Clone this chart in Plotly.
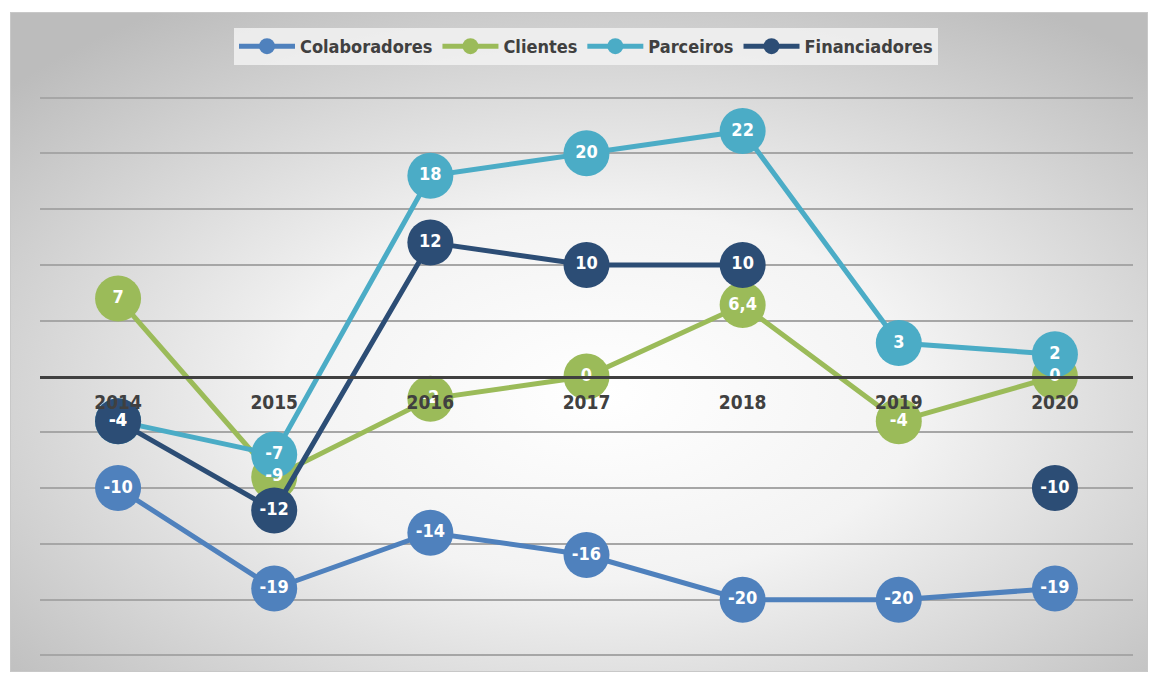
import base64
import plotly.graph_objects as go

# Series by year (None = no value reported)
years = ["2014", "2015", "2016", "2017", "2018", "2019", "2020"]
colaboradores = [-10, -19, -14, -16, -20, -20, -19]
clientes = [7, -9, -2, 0, 6.4, -4, 0]
parceiros = [-4, -7, 18, 20, 22, 3, 2]
financiadores = [-4, -12, 12, 10, 10, None, -10]

series = [
    ("Colaboradores", colaboradores, "#4f81bd"),
    ("Clientes", clientes, "#9bbb59"),
    ("Parceiros", parceiros, "#4bacc6"),
    ("Financiadores", financiadores, "#2c4d75"),
]

FONT = "Liberation Sans Narrow, DejaVu Sans Condensed, Arial Narrow, sans-serif"


def fmt(v):
    if v is None:
        return ""
    s = f"{v:g}"
    return s.replace(".", ",")


fig = go.Figure()

# Lines and circular markers
for name, vals, color in series:
    fig.add_trace(go.Scatter(
        x=years, y=vals, name=name, mode="lines+markers",
        line=dict(color=color, width=5),
        marker=dict(size=46, color=color, line=dict(width=0)),
        connectgaps=False,
    ))

# Value labels on top of every series
for name, vals, color in series:
    fig.add_trace(go.Scatter(
        x=years, y=vals, mode="text", text=[fmt(v) for v in vals],
        textposition="middle center", showlegend=False, hoverinfo="skip",
        textfont=dict(family=FONT, size=18, color="white", weight="bold"),
    ))

# Radial gradient backdrop for the chart frame
svg = """<svg xmlns='http://www.w3.org/2000/svg' width='1138' height='660' viewBox='0 0 1138 660' preserveAspectRatio='none'>
<defs><radialGradient id='g' cx='52%' cy='58%' r='70%' fx='52%' fy='58%'>
<stop offset='0' stop-color='#ffffff'/><stop offset='0.4' stop-color='#f3f3f3'/>
<stop offset='1' stop-color='#bcbcbc'/></radialGradient></defs>
<rect x='0.5' y='0.5' width='1137' height='659' fill='url(#g)' stroke='#c8c8c8' stroke-width='1'/>
</svg>"""
src = "data:image/svg+xml;base64," + base64.b64encode(svg.encode()).decode()

# Plot area in pixels; the y range is padded by half a unit on each side
L, R, T, B = 40, 1133, 92, 661
W, H = R - L, B - T


def px_x(p):
    return (p - L) / W


def px_y(p):
    return (B - p) / H


fig.add_layout_image(dict(
    source=src, xref="paper", yref="paper",
    x=px_x(10), y=px_y(12), sizex=px_x(1148) - px_x(10), sizey=px_y(12) - px_y(672),
    xanchor="left", yanchor="top", sizing="stretch", layer="below",
))

fig.update_layout(
    width=1152, height=675,
    margin=dict(l=L, r=1152 - R, t=T, b=675 - B),
    paper_bgcolor="white", plot_bgcolor="rgba(0,0,0,0)",
    font=dict(family=FONT, color="#404040"),
    showlegend=True,
    legend=dict(
        orientation="h", x=px_x(586), xanchor="center", y=px_y(28), yanchor="top",
        bgcolor="rgba(242,242,242,0.85)",
        font=dict(family=FONT, size=18, color="#404040", weight="bold"),
        itemwidth=56, tracegroupgap=0,
    ),
    xaxis=dict(
        type="category", range=[-0.5, 6.5], anchor="free", position=0.5,
        showline=True, linecolor="#404040", linewidth=3,
        ticks="outside", ticklen=8, tickcolor="rgba(0,0,0,0)",
        showgrid=False, zeroline=False, layer="above traces",
        tickfont=dict(family=FONT, size=19, color="#404040", weight="bold"),
    ),
    yaxis=dict(
        range=[-25.5, 25.5], tickvals=[-25, -20, -15, -10, -5, 5, 10, 15, 20, 25],
        showticklabels=False, zeroline=False,
        showgrid=True, gridcolor="#a6a6a6", gridwidth=1.5, showline=False,
    ),
)

fig.write_html("out.html")
